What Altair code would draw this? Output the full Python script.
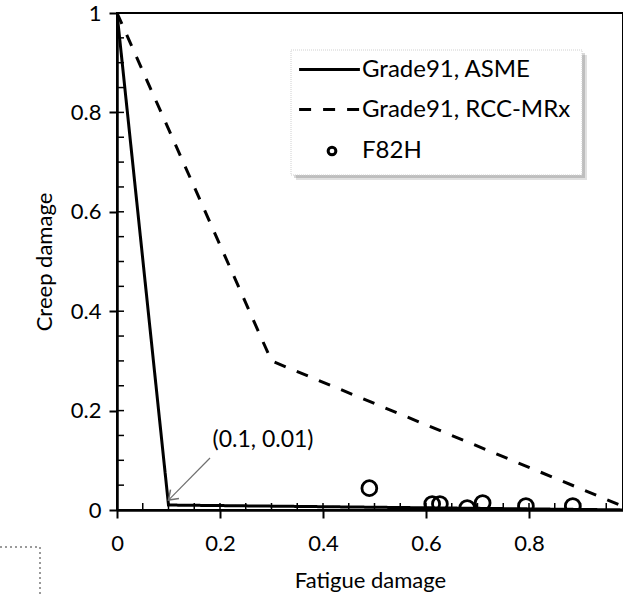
import altair as alt
import pandas as pd

# ---- data ----
series_names = ["Grade91, ASME", "Grade91, RCC-MRx"]
asme_fatigue = [0.0, 0.1, 1.0]
asme_creep = [1.0, 0.01, 0.0]
rcc_fatigue = [0.0, 0.3, 1.0]
rcc_creep = [1.0, 0.3, 0.0]
f82h_fatigue = [0.49, 0.612, 0.627, 0.68, 0.71, 0.794, 0.885]
f82h_creep = [0.044, 0.012, 0.012, 0.004, 0.014, 0.008, 0.008]
x_major = [0, 0.2, 0.4, 0.6, 0.8]
y_major = [0, 0.2, 0.4, 0.6, 0.8, 1.0]
x_minor = [0.05, 0.1, 0.15, 0.2, 0.25, 0.3, 0.35, 0.4, 0.45, 0.5, 0.55, 0.6, 0.65, 0.7, 0.75, 0.8, 0.85, 0.9, 0.95]
y_minor = [0.05, 0.1, 0.15, 0.2, 0.25, 0.3, 0.35, 0.4, 0.45, 0.5, 0.55, 0.6, 0.65, 0.7, 0.75, 0.8, 0.85, 0.9, 0.95]
annot_label = "(0.1, 0.01)"
annot_text_pos = [0.2835, 0.141]
arrow_start = [0.1806, 0.1046]
arrow_tip = [0.1, 0.02]

FONT = "Lato"
AX_FS = 22
LEG_FS = 24
W, H = 506, 497
x_max = 506 / 515

lines_df = pd.DataFrame(
    {
        "series": [series_names[0]] * 3 + [series_names[1]] * 3,
        "fatigue": asme_fatigue + rcc_fatigue,
        "creep": asme_creep + rcc_creep,
        "order": [0, 1, 2, 0, 1, 2],
    }
)
pts_df = pd.DataFrame({"fatigue": f82h_fatigue, "creep": f82h_creep, "label": ["F82H"] * len(f82h_fatigue)})

xs = alt.Scale(domain=[0, x_max], nice=False, zero=False)
ys = alt.Scale(domain=[0, 1], nice=False)

x_enc = alt.X(
    "fatigue:Q",
    scale=xs,
    axis=alt.Axis(
        title="Fatigue damage",
        values=x_major,
        format="~g",
        grid=False,
        tickSize=8,
        tickWidth=2,
        tickColor="black",
        domainColor="black",
        domainWidth=2.5,
        labelFont=FONT,
        labelFontSize=AX_FS,
        labelColor="black",
        labelPadding=15,
        labelFlush=False,
        titleFont=FONT,
        titleFontSize=AX_FS,
        titleFontWeight="normal",
        titleColor="black",
        titlePadding=16,
    ),
)
y_enc = alt.Y(
    "creep:Q",
    scale=ys,
    axis=alt.Axis(
        title="Creep damage",
        values=y_major,
        format="~g",
        grid=False,
        tickSize=8,
        tickWidth=2,
        tickColor="black",
        domainColor="black",
        domainWidth=2.5,
        labelFont=FONT,
        labelFontSize=AX_FS,
        labelColor="black",
        labelPadding=8,
        labelFlush=False,
        titleFont=FONT,
        titleFontSize=AX_FS,
        titleFontWeight="normal",
        titleColor="black",
        titlePadding=14,
    ),
)

# legend box with a soft shadow
box = pd.DataFrame({"k": [0]})
shadow1 = alt.Chart(box).mark_rect(fill="#000000", opacity=0.12).encode(
    x=alt.value(179), x2=alt.value(470), y=alt.value(42), y2=alt.value(167)
)
shadow2 = alt.Chart(box).mark_rect(fill="#000000", opacity=0.15).encode(
    x=alt.value(177), x2=alt.value(468), y=alt.value(40), y2=alt.value(165)
)
legend_box = alt.Chart(box).mark_rect(fill="white", stroke="#d0d0d0", strokeWidth=1, strokeDash=[1, 1]).encode(
    x=alt.value(174), x2=alt.value(465), y=alt.value(37), y2=alt.value(162)
)

lines = alt.Chart(lines_df).mark_line(color="black", strokeWidth=3, clip=True).encode(
    x=x_enc,
    y=y_enc,
    order="order:Q",
    strokeDash=alt.StrokeDash(
        "series:N",
        scale=alt.Scale(domain=series_names, range=[[1, 0], [12, 12]]),
        legend=alt.Legend(
            orient="none",
            legendX=192,
            legendY=36,
            title=None,
            symbolType="M-1.6,0H1.6",
            symbolSize=1444,
            symbolStrokeWidth=3,
            symbolStrokeColor="black",
            symbolOpacity=1,
            labelFont=FONT,
            labelFontSize=LEG_FS,
            labelColor="black",
            labelOffset=12,
            labelLimit=400,
            rowPadding=7,
            padding=0,
        ),
    ),
)

points = alt.Chart(pts_df).mark_point(
    filled=False, size=220, strokeWidth=2.8, color="black", opacity=1, clip=True
).encode(
    x=alt.X("fatigue:Q", scale=xs),
    y=alt.Y("creep:Q", scale=ys),
    shape=alt.Shape(
        "label:N",
        scale=alt.Scale(domain=["F82H"], range=["circle"]),
        legend=alt.Legend(
            orient="none",
            legendX=203,
            legendY=126,
            title=None,
            symbolSize=60,
            symbolStrokeWidth=3,
            symbolStrokeColor="black",
            symbolFillColor="transparent",
            symbolOpacity=1,
            labelFont=FONT,
            labelFontSize=LEG_FS,
            labelColor="black",
            labelOffset=18,
            labelLimit=400,
            padding=0,
        ),
    ),
)

# inner tick marks (major and minor)
xt = alt.Chart(pd.DataFrame({"v": x_minor})).mark_rule(color="black", strokeWidth=1.5).encode(
    x=alt.X("v:Q", scale=xs), y=alt.value(H), y2=alt.value(H - 7)
)
yt = alt.Chart(pd.DataFrame({"v": y_minor})).mark_rule(color="black", strokeWidth=1.5).encode(
    y=alt.Y("v:Q", scale=ys), x=alt.value(0), x2=alt.value(7)
)

# annotation
arrow_df = pd.DataFrame(
    {"fatigue": [arrow_start[0]], "creep": [arrow_start[1]], "f2": [arrow_tip[0]], "c2": [arrow_tip[1]]}
)
arrow_line = alt.Chart(arrow_df).mark_rule(color="#6f6f6f", strokeWidth=1.2).encode(
    x=alt.X("fatigue:Q", scale=xs), y=alt.Y("creep:Q", scale=ys), x2="f2:Q", y2="c2:Q"
)
head_df = pd.DataFrame({"fatigue": [arrow_tip[0]], "creep": [arrow_tip[1]]})
arrow_head = alt.Chart(head_df).mark_point(
    shape="M-1,-0.7L0,0L-1,0.7", filled=False, size=300, strokeWidth=1.5, color="#6f6f6f", opacity=1, angle=136
).encode(x=alt.X("fatigue:Q", scale=xs), y=alt.Y("creep:Q", scale=ys))
text_df = pd.DataFrame({"fatigue": [annot_text_pos[0]], "creep": [annot_text_pos[1]], "t": [annot_label]})
annot = alt.Chart(text_df).mark_text(
    font=FONT, fontSize=23, color="black", align="center", baseline="middle"
).encode(x=alt.X("fatigue:Q", scale=xs), y=alt.Y("creep:Q", scale=ys), text="t:N")

# dotted selection-frame fragment in the lower-left corner of the picture
frag_h = alt.Chart(box).mark_rule(color="#9a9a9a", strokeWidth=2, strokeDash=[2, 3]).encode(
    x=alt.value(-117), x2=alt.value(-77), y=alt.value(534)
)
frag_v = alt.Chart(box).mark_rule(color="#9a9a9a", strokeWidth=2, strokeDash=[2, 3]).encode(
    x=alt.value(-77), y=alt.value(534), y2=alt.value(590)
)

chart = (
    alt.layer(shadow1, shadow2, legend_box, xt, yt, lines, points, arrow_line, arrow_head, annot, frag_h, frag_v)
    .resolve_scale(strokeDash="independent", shape="independent")
    .properties(
        width=W,
        height=H,
        autosize=alt.AutoSizeParams(type="none"),
        padding={"left": 117, "top": 13, "right": 0, "bottom": 87},
        background="white",
    )
    .configure_view(stroke="black", strokeWidth=2)
)

chart.save("out.html", embed_options={"renderer": "svg", "actions": False})
